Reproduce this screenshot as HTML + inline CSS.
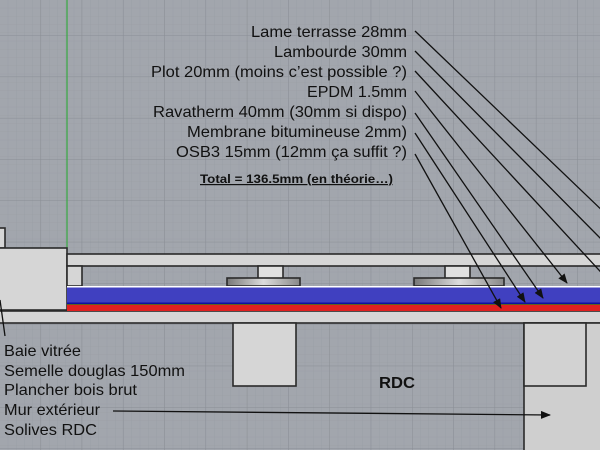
<!DOCTYPE html>
<html><head><meta charset="utf-8"><style>
body{margin:0}
svg text{font-family:"Liberation Sans",sans-serif}
</style></head><body>
<svg width="600" height="450" xmlns="http://www.w3.org/2000/svg">
<defs>
<pattern id="mg" width="8.25" height="8.25" patternUnits="userSpaceOnUse"><path d="M8.25 0V8.25H0" fill="none" stroke="#979ba2" stroke-width="0.6"/></pattern>
<pattern id="Mg" x="-0.5" y="-5.5" width="41.3" height="41.3" patternUnits="userSpaceOnUse"><path d="M41.3 0V41.3H0" fill="none" stroke="#8a8e95" stroke-width="1"/></pattern>
<linearGradient id="pg" x1="0" x2="1"><stop offset="0" stop-color="#777"/><stop offset=".5" stop-color="#ddd"/><stop offset="1" stop-color="#888"/></linearGradient>
<marker id="ar" markerWidth="10" markerHeight="8" refX="9" refY="4" orient="auto" markerUnits="userSpaceOnUse"><path d="M0 0L10 4L0 8z" fill="#111"/></marker>
</defs>
<rect width="600" height="450" fill="#a2a6ad"/>
<rect width="600" height="450" fill="url(#mg)"/>
<rect width="600" height="450" fill="url(#Mg)"/>
<line x1="67" y1="0" x2="67" y2="250" stroke="#3fa84a" stroke-width="1.3"/>
<g stroke="#2a2a2a" stroke-width="1.6" fill="#d6d6d6">
<rect x="-2" y="228" width="7" height="20"/>
<rect x="-2" y="248" width="69" height="62"/>
<rect x="67" y="254" width="540" height="12"/>
<rect x="67" y="266" width="15" height="20"/>
<rect x="258" y="266" width="25" height="13" fill="#e0e0e0"/>
<rect x="445" y="266" width="25" height="13" fill="#e0e0e0"/>
<rect x="227" y="278" width="73" height="8" fill="url(#pg)"/>
<rect x="414" y="278" width="90" height="8" fill="url(#pg)"/>
<rect x="-2" y="311" width="610" height="12"/>
<rect x="233" y="323" width="63" height="63"/>
<rect x="524" y="323" width="80" height="130" fill="#cfcfcf"/>
<rect x="524" y="323" width="62" height="63" fill="#d2d2d2"/>
</g>
<rect x="67" y="286" width="540" height="1.5" fill="#fff"/>
<rect x="67" y="287.5" width="540" height="15.5" fill="#4040c0"/>
<rect x="67" y="302.5" width="540" height="1.5" fill="#1010a0"/>
<rect x="67" y="304" width="540" height="1" fill="#606020"/>
<rect x="67" y="305" width="540" height="6" fill="#e02020"/>
<g font-size="16" fill="#111" text-anchor="end" lengthAdjust="spacingAndGlyphs">
<text x="407" y="37" textLength="156" lengthAdjust="spacingAndGlyphs">Lame terrasse 28mm</text>
<text x="407" y="57" textLength="133" lengthAdjust="spacingAndGlyphs">Lambourde 30mm</text>
<text x="407" y="77" textLength="256" lengthAdjust="spacingAndGlyphs">Plot 20mm (moins c’est possible ?)</text>
<text x="407" y="97" textLength="100" lengthAdjust="spacingAndGlyphs">EPDM 1.5mm</text>
<text x="407" y="117" textLength="254" lengthAdjust="spacingAndGlyphs">Ravatherm 40mm (30mm si dispo)</text>
<text x="407" y="137" textLength="220" lengthAdjust="spacingAndGlyphs">Membrane bitumineuse 2mm)</text>
<text x="407" y="157" textLength="231" lengthAdjust="spacingAndGlyphs">OSB3 15mm (12mm ça suffit ?)</text>
</g>
<text x="200" y="183" font-size="12" font-weight="bold" fill="#111" text-decoration="underline" textLength="193" lengthAdjust="spacingAndGlyphs">Total = 136.5mm (en théorie…)</text>
<g stroke="#111" stroke-width="1.3" fill="none">
<line x1="415" y1="31" x2="610" y2="218"/>
<line x1="415" y1="51" x2="610" y2="248"/>
<line x1="415" y1="71" x2="610" y2="282"/>
<line x1="415" y1="91" x2="567" y2="283" marker-end="url(#ar)"/>
<line x1="415" y1="113" x2="543" y2="298" marker-end="url(#ar)"/>
<line x1="415" y1="133" x2="525" y2="302" marker-end="url(#ar)"/>
<line x1="415" y1="154" x2="501" y2="308" marker-end="url(#ar)"/>
<line x1="113" y1="411" x2="550" y2="415" marker-end="url(#ar)"/>
<line x1="0" y1="300" x2="5" y2="336"/>
</g>
<g font-size="16" fill="#111">
<text x="4" y="356" textLength="77" lengthAdjust="spacingAndGlyphs">Baie vitrée</text>
<text x="4" y="376" textLength="181" lengthAdjust="spacingAndGlyphs">Semelle douglas 150mm</text>
<text x="4" y="395" textLength="133" lengthAdjust="spacingAndGlyphs">Plancher bois brut</text>
<text x="4" y="415" textLength="96" lengthAdjust="spacingAndGlyphs">Mur extérieur</text>
<text x="4" y="435" textLength="93" lengthAdjust="spacingAndGlyphs">Solives RDC</text>
</g>
<text x="379" y="388" font-size="16" font-weight="bold" fill="#111" textLength="36" lengthAdjust="spacingAndGlyphs">RDC</text>
</svg>
</body></html>
